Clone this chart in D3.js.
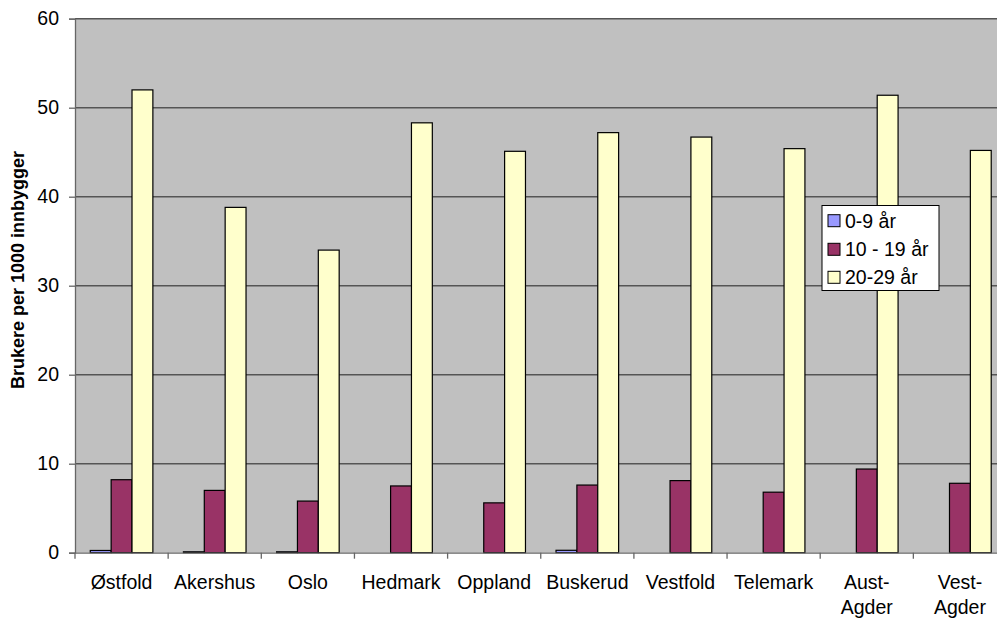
<!DOCTYPE html>
<html>
<head>
<meta charset="utf-8">
<script src="https://cdn.jsdelivr.net/npm/d3@7"></script>
<style>
  html, body { margin: 0; padding: 0; background: #ffffff; }
  svg { display: block; font-family: Arial, "Liberation Sans", sans-serif; }
</style>
</head>
<body>
<svg id="chart" width="997" height="618"></svg>
<script>
const categories = ["Østfold", "Akershus", "Oslo", "Hedmark", "Oppland", "Buskerud", "Vestfold", "Telemark", "Aust-\nAgder", "Vest-\nAgder"];
const seriesNames = ["0-9 år", "10 - 19 år", "20-29 år"];
const age0_9   = [0.25, 0.1, 0.1, 0, 0, 0.27, 0, 0, 0, 0];
const age10_19 = [8.2, 7.0, 5.8, 7.5, 5.6, 7.6, 8.1, 6.8, 9.4, 7.8];
const age20_29 = [52.0, 38.8, 34.0, 48.3, 45.1, 47.2, 46.7, 45.4, 51.4, 45.2];
const yTicks = [0, 10, 20, 30, 40, 50, 60];
const colors = ["#9999FF", "#993366", "#FFFFCC"];
const seriesValues = [age0_9, age10_19, age20_29];

(function () {
const svg = d3.select("#chart");
const pLeft = 75, pTop = 18.7, pBottom = 552.7, bandW = 93.15;
const pRight = pLeft + bandW * categories.length;

const x = d3.scaleBand().domain(d3.range(categories.length)).range([pLeft, pRight]).padding(0);
const xs = d3.scaleBand().domain(d3.range(seriesNames.length))
  .range([x.bandwidth() * 0.164, x.bandwidth() * 0.836]).padding(0);
const y = d3.scaleLinear().domain([0, 60]).range([pBottom, pTop]);

// plot background
svg.append("rect").attr("x", pLeft).attr("y", pTop).attr("width", pRight - pLeft).attr("height", pBottom - pTop)
  .attr("fill", "#C0C0C0");

// gridlines
svg.append("g").selectAll("line").data(yTicks.filter(d => d > 0)).join("line")
  .attr("x1", pLeft).attr("x2", pRight).attr("y1", d => y(d)).attr("y2", d => y(d))
  .attr("stroke", "#555555").attr("stroke-width", 1.4);

// bars
const groups = svg.append("g").selectAll("g").data(categories).join("g")
  .attr("transform", (d, i) => `translate(${x(i)},0)`);
groups.each(function(c, i) {
  d3.select(this).selectAll("rect").data(seriesValues.map((s, k) => ({k, v: s[i]})).filter(d => d.v > 0)).join("rect")
    .attr("x", d => xs(d.k)).attr("width", xs.bandwidth())
    .attr("y", d => y(d.v)).attr("height", d => y(0) - y(d.v))
    .attr("fill", d => colors[d.k]).attr("stroke", "#000").attr("stroke-width", 1.2);
});

// y axis
const yAxis = d3.axisLeft(y).tickValues(yTicks).tickSize(6).tickPadding(10).tickFormat(d3.format("d"));
const ya = svg.append("g").attr("transform", `translate(${pLeft},0)`).call(yAxis);
ya.select(".domain").attr("stroke", "#666").attr("stroke-width", 1.3);
ya.selectAll(".tick line").attr("stroke", "#666").attr("stroke-width", 1.3);
ya.selectAll(".tick text").attr("font-size", "19.5px").attr("fill", "#000")
  .attr("font-family", "Arial, 'Liberation Sans', sans-serif");

// x axis
const xAxis = d3.axisBottom(x).tickSize(0).tickFormat("");
const xa = svg.append("g").attr("transform", `translate(0,${pBottom})`).call(xAxis);
xa.select(".domain").attr("stroke", "#666").attr("stroke-width", 1.3);
xa.selectAll(".tick").remove();
// boundary tick marks
svg.append("g").selectAll("line").data(d3.range(categories.length + 1)).join("line")
  .attr("x1", i => pLeft + i * x.step()).attr("x2", i => pLeft + i * x.step())
  .attr("y1", pBottom).attr("y2", pBottom + 6).attr("stroke", "#666").attr("stroke-width", 1.3);

// category labels
const labels = svg.append("g").selectAll("text").data(categories).join("text")
  .attr("x", (d, i) => x(i) + x.bandwidth() / 2).attr("y", 588.7)
  .attr("text-anchor", "middle").attr("font-size", "19.5px").attr("fill", "#000");
labels.each(function(d) {
  const lines = d.split("\n");
  const lx = d3.select(this).attr("x");
  d3.select(this).selectAll("tspan").data(lines).join("tspan")
    .attr("x", lx).attr("dy", (l, j) => j === 0 ? 0 : 25.5).text(l => l);
});

// y title
svg.append("text").attr("transform", "translate(24,270) rotate(-90)")
  .attr("text-anchor", "middle").attr("font-size", "18px").attr("font-weight", "bold").attr("fill", "#000")
  .text("Brukere per 1000 innbygger");

// legend
const lg = svg.append("g");
lg.append("rect").attr("x", 822).attr("y", 205.5).attr("width", 117).attr("height", 85)
  .attr("fill", "#fff").attr("stroke", "#000").attr("stroke-width", 1);
const rowY = [220.7, 249.3, 277.3];
seriesNames.forEach((n, k) => {
  lg.append("rect").attr("x", 828).attr("y", rowY[k] - 6).attr("width", 12).attr("height", 12)
    .attr("fill", colors[k]).attr("stroke", "#000").attr("stroke-width", 1);
  lg.append("text").attr("x", 845).attr("y", rowY[k] + 7).attr("font-size", "19.5px").attr("fill", "#000").text(n);
});
})();
</script>
</body>
</html>
